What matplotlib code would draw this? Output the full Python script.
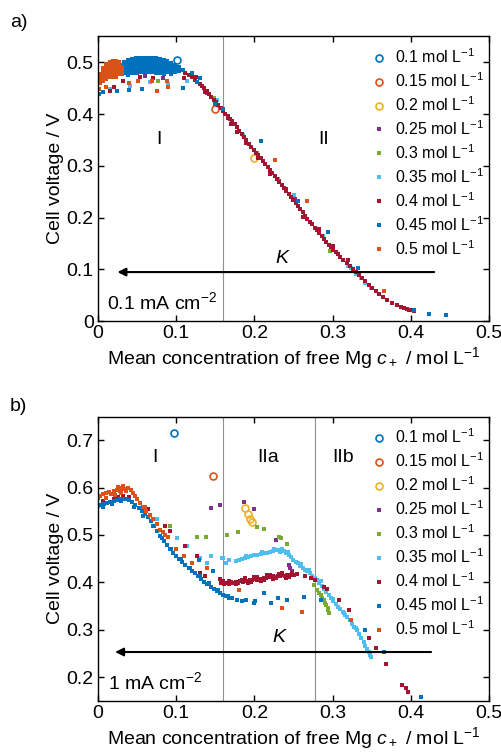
import numpy as np
import matplotlib
matplotlib.use("Agg")
import matplotlib.pyplot as plt
from matplotlib.ticker import FuncFormatter

plt.rcParams['font.family'] = ['Liberation Sans', 'DejaVu Sans']
plt.rcParams['mathtext.fontset'] = 'custom'
plt.rcParams['mathtext.rm'] = 'Liberation Sans'
plt.rcParams['mathtext.it'] = 'Liberation Sans:italic'

# legend labels and colours (MATLAB default order)
labels = ["0.1", "0.15", "0.2", "0.25", "0.3", "0.35", "0.4", "0.45", "0.5"]
colors = ["#0072BD", "#D95319", "#EDB120", "#7E2F8E", "#77AC30",
          "#4DBEEE", "#A2142F", "#0072BD", "#D95319"]
open_circle = [True, True, True, False, False, False, False, False, False]

# ---------------- panel a) 0.1 mA cm-2 ----------------
a_c010 = [(0.101, 0.504)]
a_c015 = [(0.150, 0.410)]
a_c020 = [(0.200, 0.315)]
a_s025 = [(0.060, 0.474), (0.083, 0.470), (0.140, 0.440), (0.231, 0.270), (0.252, 0.236)]
a_s030 = [(0.077, 0.464), (0.149, 0.430), (0.230, 0.275), (0.297, 0.136), (0.203, 0.325)]
a_s035 = [(0.041, 0.454), (0.067, 0.461), (0.114, 0.464), (0.152, 0.428), (0.211, 0.309),
          (0.251, 0.244), (0.288, 0.165), (0.323, 0.103), (0.330, 0.092), (0.336, 0.083),
          (0.342, 0.074), (0.349, 0.064), (0.320, 0.106), (0.016, 0.448), (0.090, 0.458),
          (0.185, 0.360)]
a_s040 = [(0.100, 0.490), (0.104, 0.486), (0.108, 0.484), (0.112, 0.480), (0.116, 0.476),
          (0.120, 0.471), (0.124, 0.466), (0.127, 0.462), (0.130, 0.458), (0.133, 0.455),
          (0.136, 0.450), (0.139, 0.444), (0.142, 0.439), (0.145, 0.433), (0.148, 0.428),
          (0.151, 0.423), (0.154, 0.417), (0.157, 0.412), (0.160, 0.406), (0.163, 0.401),
          (0.166, 0.396), (0.169, 0.391), (0.172, 0.386), (0.175, 0.380), (0.178, 0.374),
          (0.181, 0.368), (0.184, 0.362), (0.187, 0.356), (0.190, 0.350), (0.193, 0.343),
          (0.196, 0.336), (0.199, 0.330), (0.202, 0.325), (0.205, 0.321), (0.208, 0.316),
          (0.211, 0.310), (0.214, 0.304), (0.217, 0.298), (0.220, 0.292), (0.223, 0.287),
          (0.226, 0.281), (0.229, 0.275), (0.232, 0.269), (0.235, 0.263), (0.238, 0.257),
          (0.241, 0.251), (0.244, 0.245), (0.247, 0.240), (0.250, 0.234), (0.253, 0.228),
          (0.256, 0.222), (0.259, 0.216), (0.262, 0.210), (0.265, 0.204), (0.268, 0.198),
          (0.271, 0.192), (0.274, 0.187), (0.277, 0.181), (0.280, 0.176), (0.283, 0.170),
          (0.286, 0.165), (0.289, 0.159), (0.292, 0.153), (0.295, 0.148), (0.298, 0.143),
          (0.301, 0.138), (0.304, 0.134), (0.307, 0.129), (0.310, 0.125), (0.314, 0.119),
          (0.318, 0.113), (0.322, 0.107), (0.326, 0.101), (0.330, 0.095), (0.334, 0.089),
          (0.338, 0.083), (0.342, 0.077), (0.346, 0.071), (0.350, 0.065), (0.355, 0.058),
          (0.360, 0.052), (0.365, 0.047), (0.370, 0.042), (0.376, 0.036), (0.382, 0.031),
          (0.387, 0.028), (0.391, 0.026), (0.395, 0.024), (0.398, 0.022), (0.401, 0.021),
          (0.404, 0.020), (0.137, 0.442), (0.170, 0.380), (0.178, 0.366), (0.189, 0.345),
          (0.205, 0.316), (0.220, 0.285), (0.240, 0.256), (0.262, 0.202), (0.283, 0.178),
          (0.300, 0.146), (0.320, 0.118), (0.166, 0.392), (0.050, 0.480), (0.054, 0.471),
          (0.083, 0.480), (0.092, 0.493), (0.015, 0.444), (0.032, 0.464), (0.070, 0.470),
          (0.110, 0.470), (0.126, 0.472), (0.020, 0.452)]
a_s045 = [(0.024, 0.488), (0.024, 0.481),
          (0.029, 0.495), (0.029, 0.488), (0.029, 0.481),
          (0.034, 0.500), (0.034, 0.493), (0.034, 0.486), (0.034, 0.479),
          (0.039, 0.504), (0.039, 0.497), (0.039, 0.490), (0.039, 0.483), (0.039, 0.476),
          (0.044, 0.507), (0.044, 0.500), (0.044, 0.493), (0.044, 0.486), (0.044, 0.479),
          (0.049, 0.508), (0.049, 0.501), (0.049, 0.494), (0.049, 0.487), (0.049, 0.480),
          (0.054, 0.509), (0.054, 0.502), (0.054, 0.495), (0.054, 0.488), (0.054, 0.481),
          (0.059, 0.509), (0.059, 0.502), (0.059, 0.495), (0.059, 0.488), (0.059, 0.481),
          (0.064, 0.509), (0.064, 0.502), (0.064, 0.495), (0.064, 0.488), (0.064, 0.481),
          (0.069, 0.509), (0.069, 0.502), (0.069, 0.495), (0.069, 0.488), (0.069, 0.481),
          (0.074, 0.508), (0.074, 0.501), (0.074, 0.494), (0.074, 0.487), (0.074, 0.480),
          (0.079, 0.507), (0.079, 0.500), (0.079, 0.493), (0.079, 0.486), (0.079, 0.479),
          (0.084, 0.505), (0.084, 0.498), (0.084, 0.491), (0.084, 0.484), (0.084, 0.477),
          (0.089, 0.502), (0.089, 0.495), (0.089, 0.488), (0.089, 0.481),
          (0.094, 0.499), (0.094, 0.492), (0.094, 0.485), (0.094, 0.478),
          (0.099, 0.495), (0.099, 0.488), (0.099, 0.481),
          (0.104, 0.490), (0.104, 0.483), (0.109, 0.485),
          (0.007, 0.442), (0.024, 0.444), (0.056, 0.448), (0.109, 0.451), (0.127, 0.462),
          (0.208, 0.347), (0.256, 0.233), (0.294, 0.173), (0.332, 0.103), (0.404, 0.021),
          (0.423, 0.015), (0.445, 0.012), (0.130, 0.470), (0.120, 0.480), (0.002, 0.438),
          (0.040, 0.447), (0.150, 0.420), (0.160, 0.410)]
a_s050 = [(0.003, 0.478), (0.003, 0.472), (0.003, 0.466), (0.003, 0.460),
          (0.007, 0.488), (0.007, 0.482), (0.007, 0.476), (0.007, 0.470), (0.007, 0.464),
          (0.011, 0.497), (0.011, 0.491), (0.011, 0.485), (0.011, 0.479), (0.011, 0.473), (0.011, 0.467),
          (0.015, 0.501), (0.015, 0.495), (0.015, 0.489), (0.015, 0.483), (0.015, 0.477), (0.015, 0.471),
          (0.019, 0.502), (0.019, 0.496), (0.019, 0.490), (0.019, 0.484), (0.019, 0.478), (0.019, 0.472),
          (0.023, 0.502), (0.023, 0.496), (0.023, 0.490), (0.023, 0.484), (0.023, 0.478), (0.023, 0.472),
          (0.027, 0.501), (0.027, 0.495), (0.027, 0.489), (0.027, 0.483), (0.027, 0.477),
          (0.031, 0.490), (0.031, 0.484), (0.031, 0.478),
          (0.051, 0.464), (0.069, 0.464), (0.075, 0.444), (0.088, 0.464), (0.090, 0.452),
          (0.227, 0.312), (0.267, 0.233), (0.366, 0.058), (0.002, 0.448), (0.010, 0.452),
          (0.040, 0.460)]

# ---------------- panel b) 1 mA cm-2 ----------------
b_c010 = [(0.097, 0.715)]
b_c015 = [(0.147, 0.624)]
b_c020 = [(0.188, 0.557), (0.192, 0.545), (0.195, 0.533), (0.197, 0.527)]
b_s025 = [(0.144, 0.557), (0.156, 0.563), (0.187, 0.569), (0.200, 0.554), (0.228, 0.490),
          (0.244, 0.437), (0.246, 0.430), (0.248, 0.425)]
b_s030 = [(0.092, 0.518), (0.127, 0.496), (0.138, 0.496), (0.165, 0.501), (0.179, 0.506),
          (0.203, 0.517), (0.212, 0.513), (0.231, 0.496), (0.234, 0.494), (0.242, 0.480),
          (0.276, 0.395), (0.280, 0.384), (0.283, 0.378), (0.285, 0.374), (0.287, 0.368),
          (0.289, 0.363), (0.291, 0.357), (0.292, 0.353), (0.294, 0.346), (0.294, 0.342),
          (0.296, 0.335)]
b_s035 = [(0.075, 0.533), (0.101, 0.494), (0.114, 0.476), (0.139, 0.441), (0.144, 0.455),
          (0.159, 0.451), (0.164, 0.441), (0.130, 0.452), (0.160, 0.452), (0.168, 0.447),
          (0.176, 0.446), (0.180, 0.448), (0.184, 0.450), (0.188, 0.452), (0.192, 0.453),
          (0.196, 0.455), (0.200, 0.457), (0.204, 0.458), (0.208, 0.460), (0.212, 0.461),
          (0.216, 0.463), (0.220, 0.465), (0.224, 0.466), (0.228, 0.468), (0.232, 0.469),
          (0.235, 0.468), (0.238, 0.466), (0.241, 0.462), (0.244, 0.458), (0.247, 0.453),
          (0.250, 0.448), (0.253, 0.444), (0.256, 0.440), (0.259, 0.435), (0.262, 0.431),
          (0.265, 0.427), (0.268, 0.423), (0.271, 0.419), (0.274, 0.414), (0.277, 0.409),
          (0.280, 0.404), (0.283, 0.399), (0.286, 0.393), (0.289, 0.386), (0.292, 0.380),
          (0.295, 0.374), (0.298, 0.367), (0.301, 0.361), (0.304, 0.355), (0.307, 0.349),
          (0.310, 0.343), (0.313, 0.337), (0.316, 0.332), (0.319, 0.327), (0.322, 0.320),
          (0.325, 0.313), (0.328, 0.306), (0.331, 0.299), (0.334, 0.291), (0.337, 0.283),
          (0.340, 0.274), (0.342, 0.266), (0.344, 0.259), (0.346, 0.252), (0.348, 0.246),
          (0.349, 0.243), (0.190, 0.456), (0.210, 0.464), (0.225, 0.470), (0.236, 0.471),
          (0.233, 0.465), (0.243, 0.465), (0.260, 0.438), (0.270, 0.426), (0.285, 0.402),
          (0.300, 0.365), (0.315, 0.335), (0.330, 0.303)]
b_s040 = [(0.007, 0.571), (0.020, 0.575), (0.032, 0.583), (0.064, 0.554), (0.086, 0.518),
          (0.092, 0.508), (0.111, 0.476), (0.127, 0.455), (0.131, 0.420), (0.137, 0.413),
          (0.156, 0.407), (0.012, 0.568), (0.026, 0.580), (0.040, 0.580),
          (0.158, 0.398), (0.161, 0.396), (0.164, 0.399), (0.167, 0.397), (0.170, 0.400),
          (0.173, 0.398), (0.176, 0.401), (0.179, 0.399), (0.182, 0.402), (0.185, 0.401),
          (0.188, 0.404), (0.191, 0.402), (0.194, 0.405), (0.197, 0.404), (0.200, 0.407),
          (0.203, 0.406), (0.206, 0.408), (0.209, 0.407), (0.212, 0.410), (0.215, 0.409),
          (0.218, 0.412), (0.221, 0.411), (0.224, 0.413), (0.227, 0.412), (0.230, 0.414),
          (0.233, 0.413), (0.236, 0.415), (0.239, 0.414), (0.242, 0.416), (0.245, 0.415),
          (0.248, 0.417), (0.251, 0.416), (0.254, 0.418),
          (0.160, 0.402), (0.168, 0.403), (0.176, 0.396), (0.184, 0.406), (0.192, 0.398),
          (0.200, 0.411), (0.208, 0.403), (0.216, 0.415), (0.224, 0.408), (0.232, 0.418),
          (0.240, 0.410), (0.248, 0.420), (0.188, 0.410), (0.196, 0.400), (0.204, 0.412),
          (0.212, 0.405), (0.220, 0.416), (0.228, 0.409), (0.236, 0.420), (0.244, 0.412),
          (0.265, 0.413), (0.272, 0.409), (0.278, 0.405), (0.289, 0.391), (0.293, 0.386),
          (0.308, 0.363), (0.321, 0.342), (0.347, 0.282), (0.355, 0.261), (0.369, 0.227),
          (0.389, 0.183), (0.394, 0.176), (0.397, 0.169)]
b_s045 = [(0.000, 0.562), (0.004, 0.564), (0.008, 0.566), (0.012, 0.568), (0.016, 0.570),
          (0.020, 0.572), (0.024, 0.574), (0.028, 0.576), (0.032, 0.577), (0.036, 0.576),
          (0.040, 0.573), (0.044, 0.569), (0.048, 0.563), (0.052, 0.557), (0.056, 0.551),
          (0.060, 0.544), (0.064, 0.537), (0.068, 0.529), (0.072, 0.519), (0.076, 0.508),
          (0.080, 0.498), (0.084, 0.488), (0.088, 0.479), (0.092, 0.470), (0.096, 0.463),
          (0.100, 0.456), (0.104, 0.450), (0.108, 0.443), (0.112, 0.437), (0.116, 0.431),
          (0.120, 0.425), (0.124, 0.419), (0.128, 0.413), (0.132, 0.407), (0.136, 0.401),
          (0.140, 0.396), (0.144, 0.391), (0.148, 0.386), (0.152, 0.382), (0.156, 0.378),
          (0.160, 0.374), (0.164, 0.371), (0.168, 0.368),
          (0.006, 0.560), (0.018, 0.566), (0.030, 0.571), (0.046, 0.560), (0.058, 0.540),
          (0.070, 0.518), (0.082, 0.493), (0.094, 0.470), (0.106, 0.450), (0.118, 0.431),
          (0.130, 0.414), (0.142, 0.398), (0.154, 0.384), (0.166, 0.372),
          (0.178, 0.363), (0.184, 0.360), (0.199, 0.357), (0.212, 0.377), (0.221, 0.357),
          (0.201, 0.360), (0.242, 0.363), (0.263, 0.370), (0.147, 0.423), (0.129, 0.448),
          (0.285, 0.363), (0.342, 0.300), (0.366, 0.254), (0.413, 0.158), (0.172, 0.368),
          (0.190, 0.362), (0.230, 0.366)]
b_s050 = [(0.000, 0.579), (0.006, 0.586), (0.020, 0.593), (0.028, 0.600), (0.032, 0.603),
          (0.039, 0.600), (0.045, 0.589), (0.054, 0.568), (0.062, 0.550), (0.071, 0.533),
          (0.079, 0.511), (0.086, 0.501), (0.090, 0.495), (0.003, 0.583), (0.010, 0.588),
          (0.014, 0.590), (0.017, 0.586), (0.024, 0.596), (0.028, 0.592), (0.035, 0.598),
          (0.036, 0.592), (0.042, 0.595), (0.048, 0.582), (0.050, 0.576), (0.058, 0.560),
          (0.066, 0.543), (0.075, 0.524), (0.083, 0.507), (0.010, 0.578), (0.022, 0.584),
          (0.030, 0.588), (0.026, 0.602), (0.031, 0.597),
          (0.180, 0.384), (0.236, 0.346), (0.261, 0.338), (0.323, 0.321), (0.110, 0.455),
          (0.120, 0.440), (0.140, 0.430), (0.060, 0.560), (0.100, 0.470)]

panel_a = [a_c010, a_c015, a_c020, a_s025, a_s030, a_s035, a_s040, a_s045, a_s050]
panel_b = [b_c010, b_c015, b_c020, b_s025, b_s030, b_s035, b_s040, b_s045, b_s050]

FS = 14
LFS = 11.5


def fmt(v, pos):
    s = f"{v:.1f}"
    return "0" if s == "0.0" else s


def draw(ax, series, ylim, yticks, vlines, regions, k_arrow, k_text, current):
    for pts, lab, col, circ in zip(series, labels, colors, open_circle):
        xy = np.array(pts)
        if circ:
            ax.plot(xy[:, 0], xy[:, 1], 'o', mfc='none', mec=col, ms=5, mew=1.2,
                    label=f"{lab} mol L$^{{-1}}$")
        else:
            ax.plot(xy[:, 0], xy[:, 1], 's', color=col, ms=2.5, mew=0,
                    label=f"{lab} mol L$^{{-1}}$")
    for xv in vlines:
        ax.axvline(xv, color='#909090', lw=0.8, zorder=0)
    for (tx, ty, t) in regions:
        ax.text(tx, ty, t, fontsize=FS, ha='center', va='center')
    (x0, x1, ya) = k_arrow
    ax.annotate("", xy=(x1, ya), xytext=(x0, ya),
                arrowprops=dict(arrowstyle='-|>', color='black', lw=1.5,
                                mutation_scale=12, shrinkA=0, shrinkB=0))
    ax.text(k_text[0], k_text[1], "$K$", fontsize=FS, ha='center', va='center')
    ax.text(current[0], current[1], current[2], fontsize=FS, ha='left', va='center')
    ax.set_xlim(0, 0.5)
    ax.set_ylim(*ylim)
    ax.set_xticks([0, 0.1, 0.2, 0.3, 0.4, 0.5])
    ax.set_yticks(yticks)
    ax.xaxis.set_major_formatter(FuncFormatter(fmt))
    ax.yaxis.set_major_formatter(FuncFormatter(fmt))
    ax.tick_params(direction='in', top=True, right=True, labelsize=FS, length=4, width=1,
                   pad=3)
    for sp in ax.spines.values():
        sp.set_linewidth(1.0)
    ax.set_xlabel("Mean concentration of free Mg $c_+$ / mol L$^{-1}$", fontsize=FS, labelpad=2)
    ax.set_ylabel("Cell voltage / V", fontsize=FS, labelpad=2)
    ax.legend(loc='upper right', frameon=False, fontsize=LFS, handlelength=0.6,
              handletextpad=0.7, labelspacing=0.33, markerscale=1.0,
              borderaxespad=0.3, bbox_to_anchor=(1.017, 1.0))


fig = plt.figure(figsize=(5.02, 7.56), dpi=100)
ax1 = fig.add_axes([0.195, 0.575, 0.779, 0.377])
ax2 = fig.add_axes([0.195, 0.073, 0.779, 0.376])

draw(ax1, panel_a, (0, 0.55), [0, 0.1, 0.2, 0.3, 0.4, 0.5], [0.16],
     [(0.078, 0.35, "I"), (0.288, 0.35, "II")],
     (0.43, 0.025, 0.095), (0.237, 0.122), (0.012, 0.037, "0.1 mA cm$^{-2}$"))
draw(ax2, panel_b, (0.15, 0.75), [0.2, 0.3, 0.4, 0.5, 0.6, 0.7], [0.16, 0.277],
     [(0.073, 0.664, "I"), (0.218, 0.664, "IIa"), (0.314, 0.664, "IIb")],
     (0.426, 0.022, 0.253), (0.233, 0.283), (0.013, 0.19, "1 mA cm$^{-2}$"))

fig.text(0.02, 0.97, "a)", fontsize=FS, ha='left', va='center')
fig.text(0.02, 0.462, "b)", fontsize=FS, ha='left', va='center')

fig.savefig("out.png", dpi=100)
